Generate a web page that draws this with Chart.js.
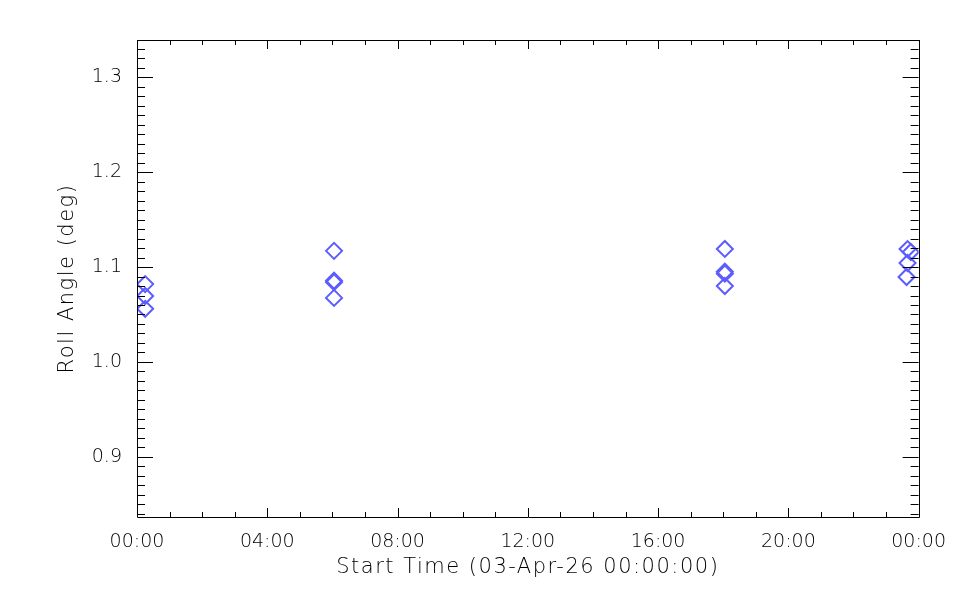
<!DOCTYPE html>
<html>
<head>
<meta charset="utf-8">
<script src="https://cdn.jsdelivr.net/npm/chart.js@4"></script>
<style>
  html, body { margin: 0; padding: 0; background: #fff; }
  #wrap { width: 960px; height: 600px; }
</style>
</head>
<body>
<div id="wrap"><canvas id="roll" width="960" height="600"></canvas></div>
<script>
// ── Data (hours since 03-Apr-26 00:00:00) ─────────────────
const startHours = [0.25, 0.25, 0.25,
                    6.05, 6.05, 6.05, 6.05,
                    18.05, 18.05, 18.05, 18.05,
                    23.66, 23.76, 23.66, 23.63];
const rollDeg    = [1.082, 1.0695, 1.056,
                    1.117, 1.0855, 1.084, 1.0675,
                    1.119, 1.095, 1.093, 1.080,
                    1.1189, 1.1158, 1.1042, 1.0895];

const xTicks = [0, 4, 8, 12, 16, 20, 24];
const yTicks = [0.9, 1.0, 1.1, 1.2, 1.3];

const X_MIN = 0, X_MAX = 24;
const Y_MIN = 0.8368, Y_MAX = 1.339;

const TICK_FONT  = { family: "'DejaVu Sans', sans-serif", size: 19, weight: 300 };
const TITLE_FONT = { family: "'DejaVu Sans', sans-serif", size: 21, weight: 300 };
const INK = '#000';

// titles are drawn a little wider, like the IDL vector font
function spaceTitle(s) {
  if (s._spaced) return;
  const orig = s.drawTitle.bind(s);
  s.drawTitle = function () {
    const ctx = this.ctx;
    ctx.save();
    ctx.letterSpacing = '1.5px';
    orig();
    ctx.restore();
  };
  s._spaced = true;
}

// ── IDL-style frame with inward major/minor ticks ─────────
const framePlugin = {
  id: 'frame',
  afterDraw(chart) {
    const { ctx, chartArea: a, scales: { x, y } } = chart;
    const c = v => Math.round(v) + 0.5;
    ctx.save();
    ctx.strokeStyle = INK;
    ctx.lineWidth = 1;
    ctx.beginPath();
    ctx.rect(c(a.left), c(a.top), Math.round(a.right) - Math.round(a.left), Math.round(a.bottom) - Math.round(a.top));

    for (let h = X_MIN; h <= X_MAX; h += 1) {
      const px = c(x.getPixelForValue(h));
      const len = h % 4 === 0 ? 9 : 5;
      ctx.moveTo(px, a.bottom); ctx.lineTo(px, a.bottom - len);
      ctx.moveTo(px, a.top);    ctx.lineTo(px, a.top + len);
    }
    for (let i = 84; i <= 133; i++) {
      const py = c(y.getPixelForValue(i / 100));
      const len = i % 10 === 0 ? 16 : 8;
      ctx.moveTo(a.left, py);  ctx.lineTo(a.left + len, py);
      ctx.moveTo(a.right, py); ctx.lineTo(a.right - len, py);
    }
    ctx.stroke();
    ctx.restore();
  }
};

new Chart(document.getElementById('roll'), {
  type: 'scatter',
  data: {
    datasets: [{
      data: startHours.map((h, i) => ({ x: h, y: rollDeg[i] })),
      pointStyle: 'rectRot',
      pointRadius: 8,
      pointHoverRadius: 8,
      pointBorderWidth: 2,
      pointBorderColor: 'rgb(92,92,255)',
      pointBackgroundColor: 'rgba(0,0,0,0)',
      showLine: false
    }]
  },
  options: {
    responsive: false,
    animation: false,
    layout: { padding: { top: 40, right: 41, left: 0, bottom: 0 } },
    plugins: { legend: { display: false }, tooltip: { enabled: false } },
    scales: {
      x: {
        type: 'linear',
        min: X_MIN, max: X_MAX,
        afterBuildTicks: s => { s.ticks = xTicks.map(v => ({ value: v })); },
        afterFit: s => { s.height = 83; },
        afterUpdate: spaceTitle,
        grid: { display: false, drawTicks: false },
        border: { display: false },
        ticks: {
          padding: 14,
          color: INK,
          font: TICK_FONT,
          maxRotation: 0,
          autoSkip: false,
          callback: v => String(v % 24).padStart(2, '0') + ':00'
        },
        title: {
          display: true,
          text: 'Start Time (03-Apr-26 00:00:00)',
          color: INK,
          font: TITLE_FONT,
          padding: { top: 0, bottom: 20 }
        }
      },
      y: {
        min: Y_MIN, max: Y_MAX,
        afterBuildTicks: s => { s.ticks = yTicks.map(v => ({ value: v })); },
        afterFit: s => { s.width = 137; },
        afterUpdate: spaceTitle,
        grid: { display: false, drawTicks: false },
        border: { display: false },
        ticks: {
          padding: 15,
          color: INK,
          font: TICK_FONT,
          callback: v => v.toFixed(1)
        },
        title: {
          display: true,
          text: 'Roll Angle (deg)',
          color: INK,
          font: TITLE_FONT,
          padding: { top: 55, bottom: 0 }
        }
      }
    }
  },
  plugins: [framePlugin]
});
</script>
</body>
</html>
